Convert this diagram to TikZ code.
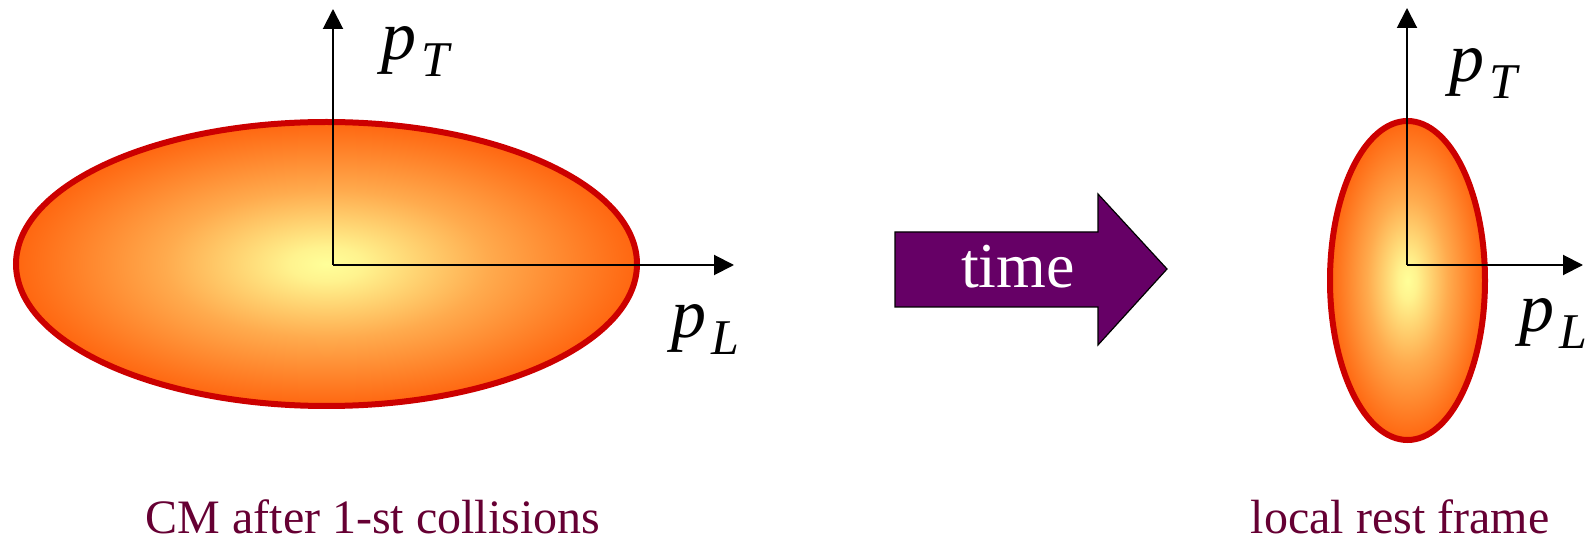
\documentclass[tikz,border=0pt]{standalone}
\usepackage{fontspec}
\setmainfont{Liberation Serif}
\usetikzlibrary{arrows.meta}
\definecolor{rimred}{HTML}{CC0000}
\definecolor{glowin}{HTML}{FFFF99}
\definecolor{glowout}{HTML}{FF6610}
\definecolor{timepurple}{HTML}{660066}
\definecolor{capmaroon}{HTML}{660033}
\pgfdeclareradialshading{glowshade}{\pgfpoint{0bp}{0bp}}{%
  color(0bp)=(glowin);
  color(3bp)=(glowin!92!glowout);
  color(13bp)=(glowin!45!glowout);
  color(25bp)=(glowout);
  color(50bp)=(glowout)}
\newcommand\momT{\textit{p}\kern2.5pt\raisebox{-8.5pt}{\fontsize{25}{26}\selectfont\textit{T}}}
\newcommand\momL{\textit{p}\kern2.5pt\raisebox{-8.5pt}{\fontsize{25}{26}\selectfont\textit{L}}}
\tikzset{
  blob/.style={draw=rimred, line width=3pt, shading=glowshade},
  axis/.style={line width=1pt, -{Triangle[length=10pt,width=10pt]}},
  momlabel/.style={anchor=base west, inner sep=0pt, font=\fontsize{35}{38}\selectfont},
  caption/.style={anchor=base, inner sep=0pt, text=capmaroon, font=\fontsize{24}{26}\selectfont},
}
\begin{document}
\begin{tikzpicture}[x=0.5pt,y=-0.5pt]
\useasboundingbox (0,0) rectangle (1592,545);
% left ellipse
\path[blob] (326.5,264) ellipse [x radius=310.5, y radius=142];
\coordinate (o1) at (333,265);
\coordinate (t1) at (333,9);
\coordinate (l1) at (734,265);
\draw[axis] (o1) -- (t1);
\draw[axis] (o1) -- (l1);
\node[momlabel] (pt1) at (381,60) {\momT};
\node[momlabel] (pl1) at (671,338) {\momL};
% time arrow
\coordinate (a1) at (895,232);
\coordinate (a2) at (1098,232);
\coordinate (a3) at (1098,194);
\coordinate (a4) at (1167,269);
\coordinate (a5) at (1098,345);
\coordinate (a6) at (1098,307);
\coordinate (a7) at (895,307);
\draw[fill=timepurple, draw=black, line width=0.6pt, line join=miter]
  (a1) -- (a2) -- (a3) -- (a4) -- (a5) -- (a6) -- (a7) -- cycle;
\node[anchor=base, inner sep=0pt, text=white, font=\fontsize{32}{34}\selectfont] (time) at (1018,288) {time};
% right ellipse
\path[blob] (1407.5,280.5) ellipse [x radius=77.5, y radius=159.5];
\coordinate (o2) at (1407,265);
\coordinate (t2) at (1407,8);
\coordinate (l2) at (1583,265);
\draw[axis] (o2) -- (t2);
\draw[axis] (o2) -- (l2);
\node[momlabel] (pt2) at (1449,82) {\momT};
\node[momlabel] (pl2) at (1519,332) {\momL};
% captions
\node[caption] (cap1) at (373,533) {CM after 1-st collisions};
\node[caption] (cap2) at (1400,533) {local rest frame};
\end{tikzpicture}
\end{document}
